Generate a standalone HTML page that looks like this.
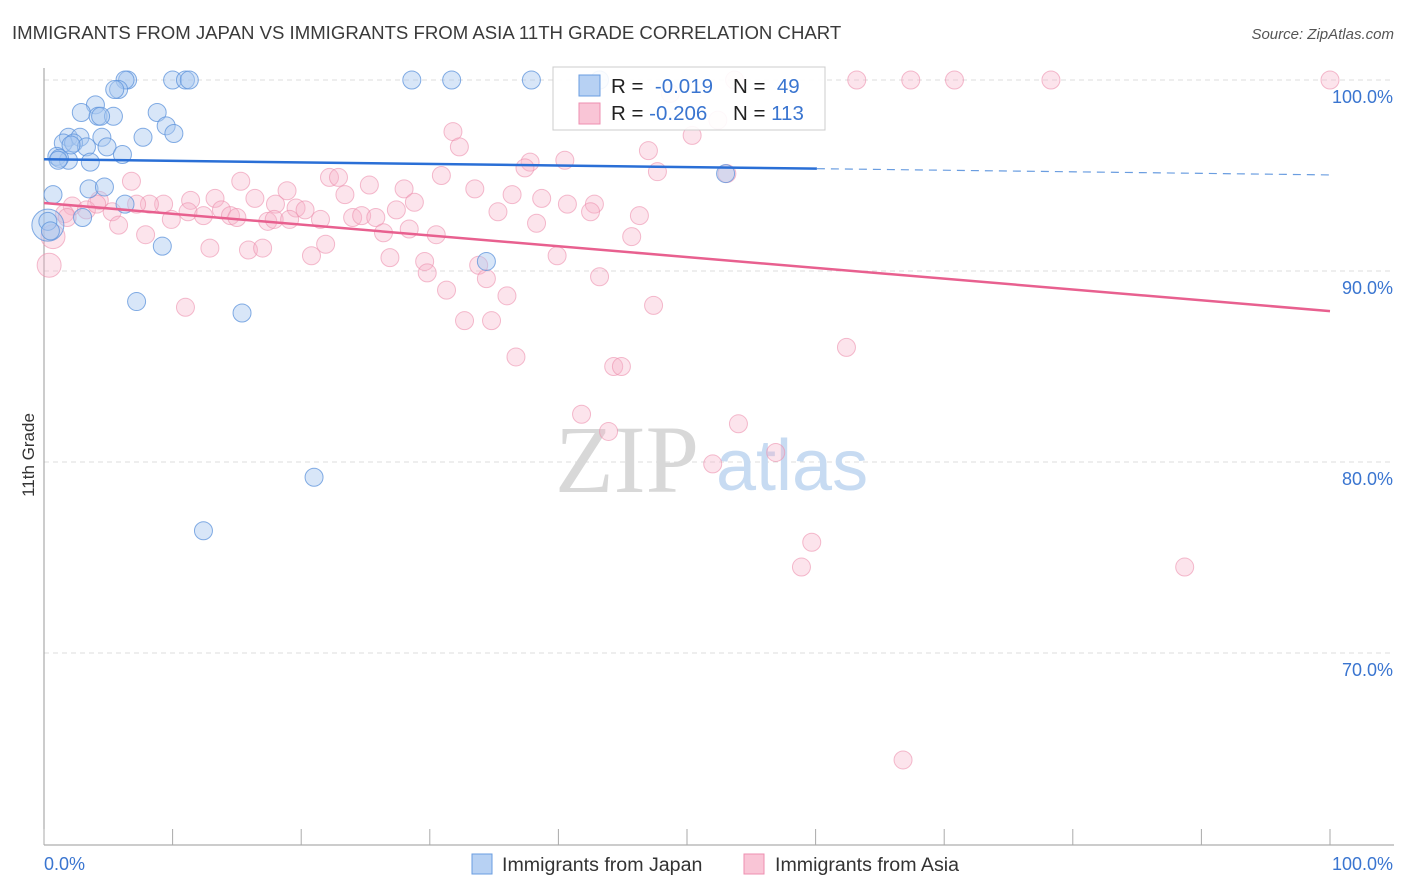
<!DOCTYPE html>
<html><head><meta charset="utf-8">
<style>
body{margin:0;background:#fff;font-family:"Liberation Sans",sans-serif;}
#wrap{position:relative;width:1406px;height:892px;overflow:hidden;}
</style></head>
<body>
<div id="wrap">
<svg id="svg" width="1406" height="892" xmlns="http://www.w3.org/2000/svg">
<text x="12" y="39" font-size="18.6" fill="#3a3a3a">IMMIGRANTS FROM JAPAN VS IMMIGRANTS FROM ASIA 11TH GRADE CORRELATION CHART</text>
<text x="1394" y="39" font-size="15" fill="#555" font-style="italic" text-anchor="end">Source: ZipAtlas.com</text>
<text x="0" y="0" transform="translate(34,455) rotate(-90)" font-size="17" fill="#333" text-anchor="middle">11th Grade</text>
<g id="grid"></g>
<text x="555" y="492" font-size="96" fill="#d8d8d8" font-family="Liberation Serif,serif">ZIP</text>
<text x="716" y="490" font-size="72" fill="#c7dbf2">atlas</text>
<g id="pts"></g>
<g id="lines"></g>
<g>
<rect x="553" y="67" width="272" height="63" fill="#fff" fill-opacity="0.9" stroke="#ccc"/>
<rect x="579" y="75" width="21" height="21" fill="#b7d1f3" stroke="#6a9de0"/>
<rect x="579" y="103" width="21" height="21" fill="#f9c5d6" stroke="#ee8fb0"/>
<text x="611" y="93" font-size="20.5" fill="#222">R = <tspan fill="#3a75d0">&#160;-0.019</tspan></text>
<text x="733" y="93" font-size="20.5" fill="#222">N = <tspan fill="#3a75d0">&#160;49</tspan></text>
<text x="611" y="120" font-size="20.5" fill="#222">R = <tspan fill="#3a75d0">-0.206</tspan></text>
<text x="733" y="120" font-size="20.5" fill="#222">N = <tspan fill="#3a75d0">113</tspan></text>
</g>
<g>
<rect x="472" y="854" width="20" height="20" fill="#b7d1f3" stroke="#6a9de0"/>
<text x="502" y="871" font-size="19.6" fill="#333">Immigrants from Japan</text>
<rect x="744" y="854" width="20" height="20" fill="#f9c5d6" stroke="#ee8fb0"/>
<text x="775" y="871" font-size="19.6" fill="#333">Immigrants from Asia</text>
</g>
</svg>
</div>
<script>
const yTicks=[100,90,80,70];
const xTickLabels=["0.0%","100.0%"];
const japanX=[6.5,6.3,10.0,11.0,11.3,28.6,31.7,37.9,43.2,5.8,5.5,4.0,2.9,8.8,4.2,5.4,9.5,10.1,7.7,1.9,2.8,4.5,1.5,2.3,3.3,4.9,6.1,1.0,1.9,3.6,0.7,3.5,4.7,6.3,3.0,0.3,0.5,9.2,34.4,7.2,15.4,53.0,21.0,12.4,1.2,4.4,2.1,1.1];
const japanY=[100,100,100,100,100,100,100,100,100,99.5,99.5,98.7,98.3,98.3,98.1,98.1,97.6,97.2,97.0,97.0,97.0,97.0,96.7,96.7,96.5,96.5,96.1,96.0,95.8,95.7,94.0,94.3,94.4,93.5,92.8,92.6,92.1,91.3,90.5,88.4,87.8,95.1,79.2,76.4,95.9,98.1,96.6,95.8];
const japanBigX=[0.3];
const japanBigY=[92.4];
const asiaX=[53.7,63.2,67.4,70.8,78.3,100,48.7,31.8,32.3,47.0,50.4,52.4,37.8,40.5,37.4,47.7,53.1,6.8,15.3,18.9,22.2,22.9,25.3,28.0,30.9,33.5,36.4,38.7,23.4,16.4,13.3,11.4,9.3,8.2,7.2,4.3,2.2,3.3,1.6,5.3,5.8,7.9,9.9,11.2,12.4,13.8,14.5,15.0,17.4,18.0,19.6,20.3,21.5,24.0,24.7,25.8,26.4,27.4,28.4,28.8,30.5,35.3,38.3,40.7,42.8,42.5,46.3,45.7,39.9,43.2,47.4,29.6,29.8,31.3,33.8,34.4,36.0,32.7,34.8,36.7,44.3,44.9,62.4,41.8,43.9,54.0,52.0,56.9,59.7,58.9,88.7,66.8,12.9,15.9,17.0,20.8,21.9,11.0,1.8,4.1,17.9,19.1,26.9];
const asiaY=[100,100,100,100,100,100,99.3,97.3,96.5,96.3,97.1,97.9,95.7,95.8,95.4,95.2,95.1,94.7,94.7,94.2,94.9,94.9,94.5,94.3,95.0,94.3,94.0,93.8,94.0,93.8,93.8,93.7,93.5,93.5,93.5,93.7,93.4,93.2,93.0,93.1,92.4,91.9,92.7,93.1,92.9,93.2,92.9,92.8,92.6,93.5,93.3,93.2,92.7,92.8,92.9,92.8,92.0,93.2,92.2,93.6,91.9,93.1,92.5,93.5,93.5,93.1,92.9,91.8,90.8,89.7,88.2,90.5,89.9,89.0,90.3,89.6,88.7,87.4,87.4,85.5,85.0,85.0,86.0,82.5,81.6,82.0,79.9,80.5,75.8,74.5,74.5,64.4,91.2,91.1,91.2,90.8,91.4,88.1,92.8,93.5,92.7,92.7,90.7];
const asiaBigX=[0.7,0.4];
const asiaBigY=[91.8,90.3];
const japanTrend=[95.85,95.03];
const asiaTrend=[93.56,87.9];
const NS="http://www.w3.org/2000/svg";
const X=v=>44+v*12.86;
const Y=v=>80+(100-v)*19.1;
function mk(tag,attrs,parent){const e=document.createElementNS(NS,tag);for(const k in attrs)e.setAttribute(k,attrs[k]);parent.appendChild(e);return e;}
const grid=document.getElementById('grid');
yTicks.forEach(t=>{
  const l=mk('line',{x1:44,x2:1394,y1:Y(t),y2:Y(t),stroke:'#ddd','stroke-dasharray':'5,4'},grid);
  
  
  const tx=mk('text',{x:1393,y:Y(t)+23,'font-size':18,fill:'#3a75d0','text-anchor':'end'},grid);
  tx.textContent=t.toFixed(1)+'%';
  
  
});
const ax=mk('line',{x1:44,x2:44,y1:68,y2:845,stroke:'#999'},grid);


const bx=mk('line',{x1:44,x2:1394,y1:845,y2:845,stroke:'#999'},grid);


for(let i=0;i<=10;i++){
  const t=mk('line',{x1:X(i*10),x2:X(i*10),y1:829,y2:845,stroke:'#aaa'},grid);
  
  
}
const xl0=mk('text',{x:44,y:870,'font-size':18,fill:'#3a75d0'},grid);
xl0.textContent=xTickLabels[0];


const xl1=mk('text',{x:1393,y:870,'font-size':18,fill:'#3a75d0','text-anchor':'end'},grid);
xl1.textContent=xTickLabels[1];


const pts=document.getElementById('pts');
asiaBigX.forEach((x,i)=>{
  const c=mk('circle',{cx:X(x),cy:Y(asiaBigY[i]),r:12,fill:'#f6b3c9','fill-opacity':0.35,stroke:'#ec8fae','stroke-opacity':0.6},pts);
  
  
});
asiaX.forEach((x,i)=>{
  const c=mk('circle',{cx:X(x),cy:Y(asiaY[i]),r:9,fill:'#f6b3c9','fill-opacity':0.35,stroke:'#ec8fae','stroke-opacity':0.6},pts);
  
  
});
japanBigX.forEach((x,i)=>{
  const c=mk('circle',{cx:X(x),cy:Y(japanBigY[i]),r:16,fill:'#a9c8f0','fill-opacity':0.45,stroke:'#5b92db','stroke-opacity':0.75},pts);
  
  
});
japanX.forEach((x,i)=>{
  const c=mk('circle',{cx:X(x),cy:Y(japanY[i]),r:9,fill:'#a9c8f0','fill-opacity':0.45,stroke:'#5b92db','stroke-opacity':0.75},pts);
  
  
});
const lines=document.getElementById('lines');
const jEnd=60.1;
const jl=mk('line',{x1:X(0),y1:Y(japanTrend[0]),x2:X(jEnd),y2:Y(japanTrend[0]+(japanTrend[1]-japanTrend[0])*jEnd/100),stroke:'#2a6fd6','stroke-width':2.5},lines);


const jd=mk('line',{x1:X(jEnd),y1:Y(japanTrend[0]+(japanTrend[1]-japanTrend[0])*jEnd/100),x2:X(100),y2:Y(japanTrend[1]),stroke:'#6a9de0','stroke-width':1.2,'stroke-dasharray':'8,6'},lines);


const al=mk('line',{x1:X(0),y1:Y(asiaTrend[0]),x2:X(100),y2:Y(asiaTrend[1]),stroke:'#e8608f','stroke-width':2.5},lines);


</script>
</body></html>
